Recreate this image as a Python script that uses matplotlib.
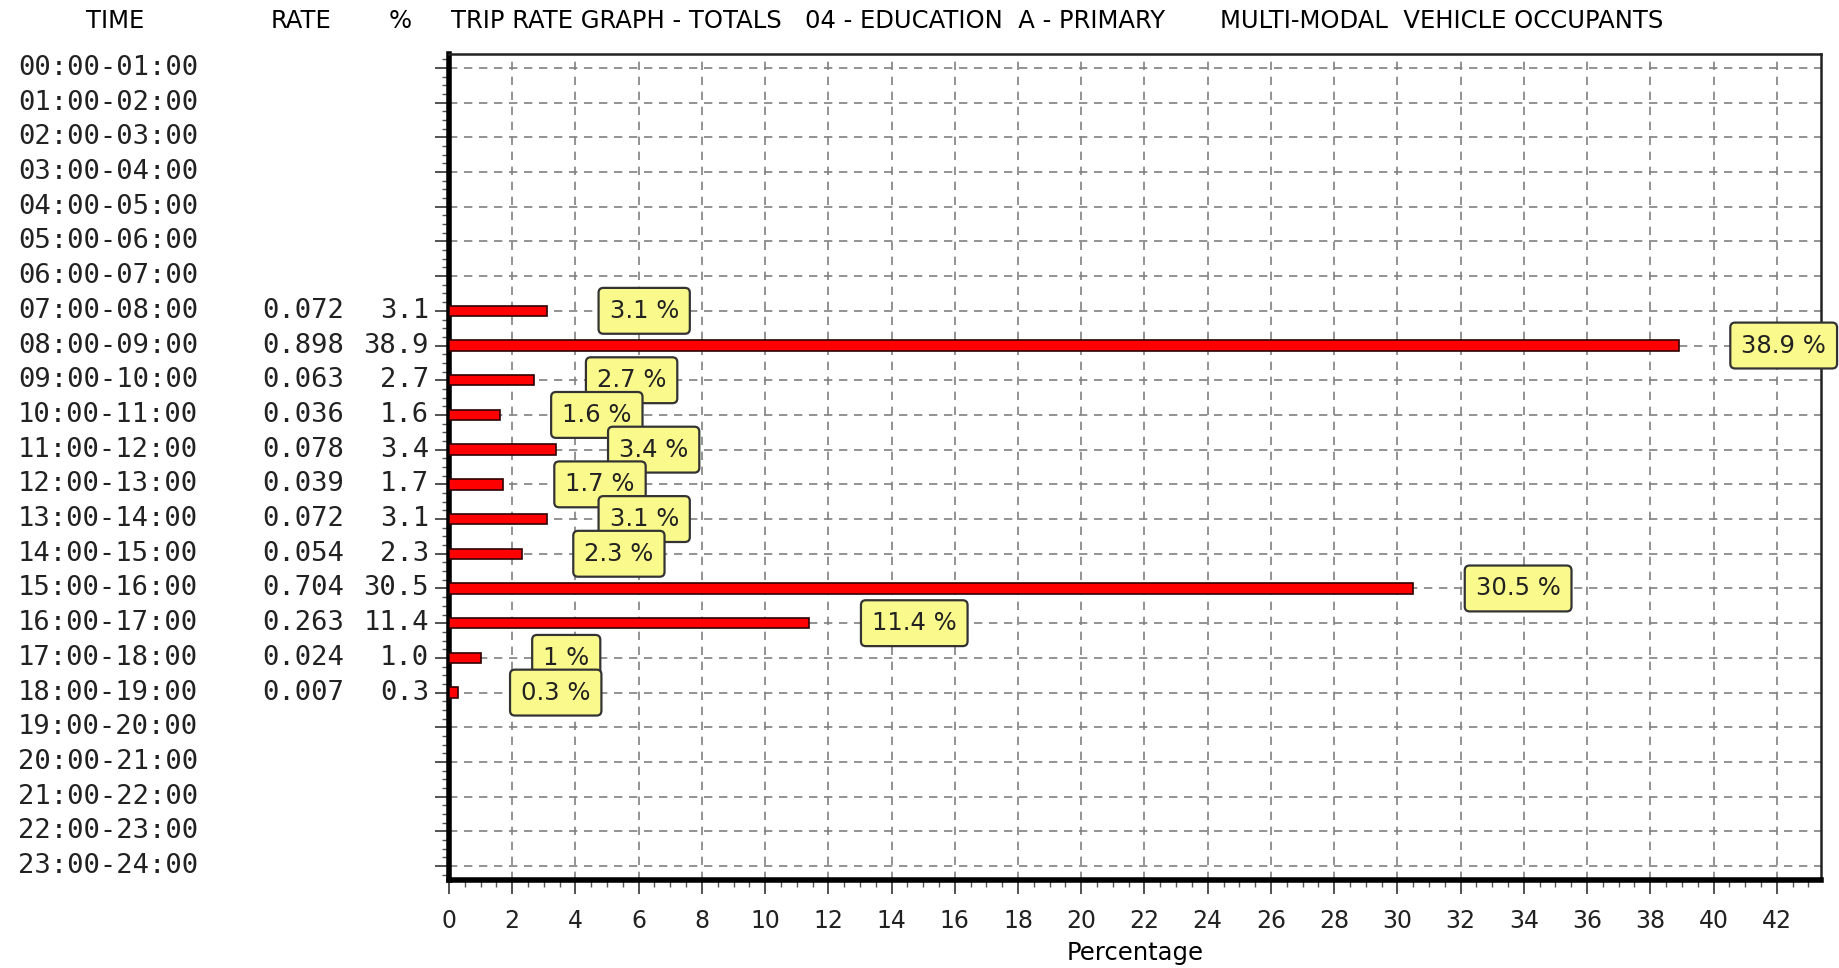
# trip rate graph - vehicle occupants per hour
import matplotlib
matplotlib.use("Agg")
import matplotlib.pyplot as plt
from matplotlib.ticker import MultipleLocator
from matplotlib.transforms import blended_transform_factory

times = ["00:00-01:00", "01:00-02:00", "02:00-03:00", "03:00-04:00",
         "04:00-05:00", "05:00-06:00", "06:00-07:00", "07:00-08:00",
         "08:00-09:00", "09:00-10:00", "10:00-11:00", "11:00-12:00",
         "12:00-13:00", "13:00-14:00", "14:00-15:00", "15:00-16:00",
         "16:00-17:00", "17:00-18:00", "18:00-19:00", "19:00-20:00",
         "20:00-21:00", "21:00-22:00", "22:00-23:00", "23:00-24:00"]
rates = [None, None, None, None, None, None, None, 0.072,
         0.898, 0.063, 0.036, 0.078, 0.039, 0.072, 0.054, 0.704,
         0.263, 0.024, 0.007, None, None, None, None, None]
percents = [None, None, None, None, None, None, None, 3.1,
            38.9, 2.7, 1.6, 3.4, 1.7, 3.1, 2.3, 30.5,
            11.4, 1.0, 0.3, None, None, None, None, None]

W, H = 1839, 968
fig = plt.figure(figsize=(W / 100, H / 100), dpi=100)
ax = fig.add_axes([449 / W, 1 - 880 / H, (1821 - 449) / W, (880 - 54) / H])

rows = [i for i, p in enumerate(percents) if p is not None]
vals = [percents[i] for i in rows]
ax.barh(rows, vals, height=0.3, color="#ff0000", edgecolor="#300000",
        linewidth=1.2, zorder=3)

ax.set_xlim(0, 43.4)
ax.set_ylim(23.4, -0.4)
ax.xaxis.set_major_locator(MultipleLocator(2))
ax.xaxis.set_minor_locator(MultipleLocator(0.5))
ax.set_yticks(range(len(times)))
ax.set_yticklabels([])
ax.yaxis.set_minor_locator(MultipleLocator(0.25))
ax.set_axisbelow(True)
ax.grid(True, which="major", color="#808080", linestyle=(0, (5, 4)), linewidth=1.2)
ax.tick_params(axis="both", which="major", length=10, width=1.2, color="#333333",
               labelsize=17, pad=11, labelcolor="#222222")
ax.tick_params(axis="both", which="minor", length=5, width=1, color="#555555")

for side in ["left", "bottom"]:
    ax.spines[side].set_linewidth(4)
    ax.spines[side].set_color("black")
for side in ["top", "right"]:
    ax.spines[side].set_linewidth(1.8)
    ax.spines[side].set_color("#222222")

# value boxes
for i, v in zip(rows, vals):
    ax.annotate(f"{v:g} %", xy=(v, i), xytext=(45, 0), textcoords="offset points",
                ha="left", va="center", fontsize=17.5, color="#222222", zorder=5,
                bbox=dict(boxstyle="round,pad=0.45,rounding_size=0.2",
                          fc="#fafa8c", ec="#333333", lw=1.6))

# table columns on the left
tr = blended_transform_factory(fig.transFigure, ax.transData)
for i, t in enumerate(times):
    ax.text(18 / W, i, t, transform=tr, ha="left", va="center",
            family="DejaVu Sans Mono", fontsize=19.5, color="#222222")
    if rates[i] is not None:
        ax.text(344 / W, i, f"{rates[i]:.3f}", transform=tr, ha="right", va="center",
                family="DejaVu Sans Mono", fontsize=19.5, color="#222222")
        ax.text(429 / W, i, f"{percents[i]:.1f}", transform=tr, ha="right", va="center",
                family="DejaVu Sans Mono", fontsize=19.5, color="#222222")

# header line
hy = 1 - 21 / H
hs = 17.5
fig.text(115 / W, hy, "TIME", ha="center", va="center", fontsize=hs)
fig.text(301 / W, hy, "RATE", ha="center", va="center", fontsize=hs)
fig.text(400 / W, hy, "%", ha="center", va="center", fontsize=hs)
fig.text(451 / W, hy, "TRIP RATE GRAPH - TOTALS", ha="left", va="center", fontsize=hs)
fig.text(805 / W, hy, "04 - EDUCATION  A - PRIMARY", ha="left", va="center", fontsize=hs)
fig.text(1220 / W, hy, "MULTI-MODAL  VEHICLE OCCUPANTS", ha="left", va="center", fontsize=hs)

fig.text((449 + 1821) / 2 / W, 1 - 953 / H, "Percentage", ha="center", va="center",
         fontsize=17.5)

fig.savefig("out.png", dpi=100)
